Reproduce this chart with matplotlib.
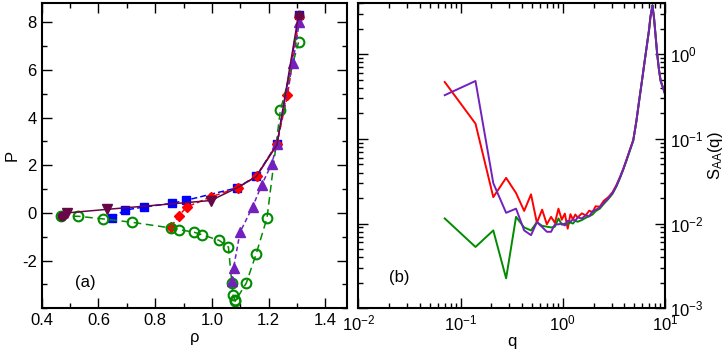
import numpy as np
import matplotlib
matplotlib.use("Agg")
import matplotlib.pyplot as plt
from matplotlib.ticker import MultipleLocator, FixedLocator, LogLocator, NullFormatter

plt.rcParams['font.family'] = ['Liberation Sans', 'DejaVu Sans']
plt.rcParams['mathtext.fontset'] = 'custom'
plt.rcParams['mathtext.rm'] = 'Liberation Sans'
plt.rcParams['mathtext.it'] = 'Liberation Sans:italic'
plt.rcParams['axes.unicode_minus'] = False

# colours (grace palette)
c_red = '#ff0000'
c_blue = '#0000ff'
c_green = '#008b00'
c_indigo = '#7221bc'
c_maroon = '#670748'

# ---- panel (a): P vs rho ----
rho_blue = [0.647, 0.694, 0.761, 0.858, 0.909, 1.088, 1.156, 1.229, 1.308]
P_blue = [-0.20, 0.12, 0.25, 0.40, 0.53, 1.05, 1.54, 2.90, 8.30]

rho_red = [0.855, 0.884, 0.911, 0.996, 1.090, 1.157, 1.228, 1.266, 1.308]
P_red = [-0.59, -0.11, 0.25, 0.67, 1.05, 1.54, 2.87, 4.93, 8.20]

rho_green = [0.467, 0.528, 0.615, 0.717, 0.855, 0.884, 0.937, 0.964, 1.025, 1.058,
             1.070, 1.074, 1.080, 1.082, 1.121, 1.156, 1.194, 1.241, 1.305]
P_green = [-0.14, -0.14, -0.25, -0.39, -0.63, -0.70, -0.81, -0.91, -1.15, -1.43,
           -2.94, -3.43, -3.64, -3.70, -2.94, -1.71, -0.21, 4.30, 7.15]

rho_indigo = [1.070, 1.076, 1.099, 1.143, 1.176, 1.211, 1.229, 1.285, 1.308]
P_indigo = [-2.87, -2.31, -0.81, 0.25, 1.19, 2.07, 2.87, 6.29, 8.00]

rho_maroon = [0.470, 0.488, 0.631, 0.996, 1.088, 1.156, 1.229, 1.305]
P_maroon = [-0.11, 0.00, 0.15, 0.52, 1.05, 1.52, 2.85, 8.30]
rho_maroon_end = [0.470, 1.305]
P_maroon_end = [-0.11, 8.30]

# ---- panel (b): S_AA(q) ----
q = [0.070, 0.140, 0.209, 0.279, 0.349, 0.419, 0.489, 0.558, 0.628, 0.698,
     0.768, 0.838, 0.907, 0.977, 1.047, 1.117, 1.187, 1.256, 1.326, 1.396,
     1.536, 1.675, 1.815, 1.954, 2.094, 2.30, 2.51, 2.79, 3.07, 3.35,
     3.63, 3.91, 4.19, 4.54, 4.89, 5.24, 5.58, 5.93, 6.28, 6.63,
     6.98, 7.19, 7.40, 7.54, 7.82, 8.10, 8.38, 8.73, 9.07, 9.42,
     9.77, 9.98]

S_red = [0.468, 0.151, 0.0205, 0.0346, 0.0229, 0.0141, 0.0221, 0.0102, 0.0146, 0.0098,
         0.0120, 0.0102, 0.0150, 0.0111, 0.0131, 0.0087, 0.0129, 0.0112, 0.0128, 0.0118,
         0.0132, 0.0125, 0.0142, 0.0136, 0.0160, 0.0158, 0.0185, 0.0205, 0.0235, 0.0285,
         0.0355, 0.0445, 0.056, 0.075, 0.097, 0.16, 0.28, 0.47, 0.78, 1.24,
         1.93, 2.7, 3.3, 3.7, 2.6, 1.6, 1.0, 0.65, 0.48, 0.42,
         0.37, 0.34]

S_indigo = [0.327, 0.481, 0.030, 0.0134, 0.0150, 0.0083, 0.0073, 0.0104, 0.0091, 0.0080,
            0.0080, 0.0098, 0.0098, 0.0100, 0.0095, 0.0108, 0.0105, 0.0112, 0.0108, 0.0118,
            0.0115, 0.0125, 0.0122, 0.0140, 0.0145, 0.0155, 0.0175, 0.0200, 0.0230, 0.0280,
            0.0350, 0.0440, 0.056, 0.074, 0.096, 0.16, 0.28, 0.47, 0.78, 1.24,
            1.93, 2.7, 3.3, 3.7, 2.6, 1.6, 1.0, 0.65, 0.48, 0.42,
            0.37, 0.34]

S_green = [0.0115, 0.0053, 0.0083, 0.00226, 0.0120, 0.0090, 0.0083, 0.0104, 0.0094, 0.0092,
           0.0090, 0.0092, 0.0115, 0.0097, 0.0100, 0.0098, 0.0103, 0.0100, 0.0108, 0.0105,
           0.0110, 0.0117, 0.0122, 0.0128, 0.0140, 0.0150, 0.0170, 0.0195, 0.0225, 0.0275,
           0.0345, 0.0435, 0.055, 0.073, 0.095, 0.16, 0.28, 0.47, 0.78, 1.24,
           1.95, 2.75, 3.35, 3.8, 2.6, 1.6, 1.0, 0.65, 0.48, 0.42,
           0.37, 0.34]

fig = plt.figure(figsize=(7.28, 3.54), dpi=100)
ax1 = fig.add_axes([0.0573, 0.129, 0.419, 0.8625])
ax2 = fig.add_axes([0.4922, 0.129, 0.4213, 0.8625])

lw = 1.1
ax1.plot(rho_blue, P_blue, color=c_blue, ls=(0, (4, 2)), lw=lw, marker='s', ms=6, mec=c_blue)
ax1.plot(rho_red, P_red, color=c_red, ls=(0, (4, 2)), lw=lw, marker='D', ms=5.5, mec=c_red)
ax1.plot(rho_green, P_green, color=c_green, ls=(0, (5, 3)), lw=lw, marker='o', ms=7,
         mfc='none', mec=c_green, mew=1.5)
ax1.plot(rho_indigo, P_indigo, color=c_indigo, ls=(0, (3, 2)), lw=lw, marker='^', ms=7, mec=c_indigo)
ax1.plot(rho_maroon, P_maroon, color=c_maroon, ls='-', lw=lw, marker='v', ms=7, mec=c_maroon,
         markevery=[1, 2, 3])
ax1.plot(rho_maroon_end, P_maroon_end, ls='none', marker='o', ms=6, color=c_maroon)

ax1.set_xlim(0.4, 1.475)
ax1.set_ylim(-4, 8.8)
ax1.xaxis.set_major_locator(FixedLocator([0.4, 0.6, 0.8, 1.0, 1.2, 1.4]))
ax1.set_xticklabels(['0.4', '0.6', '0.8', '1.0', '1.2', '1.4'])
ax1.xaxis.set_minor_locator(MultipleLocator(0.1))
ax1.yaxis.set_major_locator(FixedLocator([-2, 0, 2, 4, 6, 8]))
ax1.yaxis.set_minor_locator(MultipleLocator(1))
ax1.set_xlabel('ρ', fontsize=12, labelpad=1)
ax1.set_ylabel('P', fontsize=12, labelpad=2)
ax1.text(0.11, 0.083, '(a)', transform=ax1.transAxes, fontsize=12, va='center')

ax2.plot(q, S_red, color=c_red, lw=1.4)
ax2.plot(q, S_green, color=c_green, lw=1.4)
ax2.plot(q, S_indigo, color=c_indigo, lw=1.4)
ax2.set_xscale('log')
ax2.set_yscale('log')
ax2.set_xlim(1e-2, 1e1)
ax2.set_ylim(1e-3, 4)
ax2.xaxis.set_major_locator(LogLocator(base=10, numticks=100))
ax2.xaxis.set_minor_locator(LogLocator(base=10, subs=np.arange(2, 10), numticks=100))
ax2.xaxis.set_minor_formatter(NullFormatter())
ax2.yaxis.set_major_locator(LogLocator(base=10, numticks=100))
ax2.yaxis.set_minor_locator(LogLocator(base=10, subs=np.arange(2, 10), numticks=100))
ax2.yaxis.set_minor_formatter(NullFormatter())
ax2.yaxis.tick_right()
ax2.yaxis.set_label_position('right')
ax2.set_xlabel('q', fontsize=12, labelpad=1)
ax2.set_ylabel(r'S$_{\rm AA}$(q)', fontsize=12, labelpad=2)
ax2.text(0.10, 0.10, '(b)', transform=ax2.transAxes, fontsize=12, va='center')

for ax in (ax1, ax2):
    for s in ax.spines.values():
        s.set_linewidth(1.5)
    ax.tick_params(which='both', direction='in', top=True, right=True, left=True, bottom=True,
                   labelsize=12, width=1.0)
    ax.tick_params(which='major', length=7)
    ax.tick_params(which='minor', length=3.5)
ax2.tick_params(which='both', labelleft=False, labelright=True)

fig.savefig('out.png', dpi=100)
